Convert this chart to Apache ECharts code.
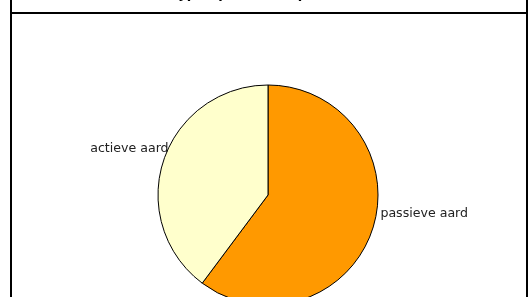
<!DOCTYPE html>
<html><head><meta charset="utf-8">
<script src="https://cdn.jsdelivr.net/npm/echarts@6/dist/echarts.min.js"></script>
<style>html,body{margin:0;padding:0;background:#fff}#c{width:531px;height:297px}</style>
</head><body><div id="c"></div>
<script>
const titleText = "Type opdrachten per aard";
const categories = ["passieve aard", "actieve aard"];
const values = [60.2, 39.8];
const colors = ["#FF9900", "#FFFFCC"];

const chart = echarts.init(document.getElementById('c'), null, {renderer: 'canvas'});
chart.setOption({
  backgroundColor: '#fff',
  animation: false,
  title: {
    text: titleText, left: 'center', top: -17,
    textStyle: {fontFamily: 'DejaVu Sans', fontSize: 13, fontWeight: 'bold', color: '#000'}
  },
  graphic: [
    {type: 'line', shape: {x1: 11, y1: 0, x2: 11, y2: 297}, style: {stroke: '#000', lineWidth: 2}},
    {type: 'line', shape: {x1: 527, y1: 0, x2: 527, y2: 297}, style: {stroke: '#000', lineWidth: 2}},
    {type: 'line', shape: {x1: 11, y1: 13, x2: 527, y2: 13}, style: {stroke: '#000', lineWidth: 2}}
  ],
  series: [{
    type: 'pie',
    center: [268, 195],
    radius: 110,
    startAngle: 90,
    clockwise: true,
    avoidLabelOverlap: false,
    data: categories.map((c, i) => ({name: c, value: values[i], itemStyle: {color: colors[i]}})),
    itemStyle: {borderColor: '#000', borderWidth: 1},
    label: {
      show: true, position: 'outside', formatter: '{b}',
      fontFamily: 'DejaVu Sans', fontSize: 12.6, color: '#222', distanceToLabelLine: 2
    },
    labelLine: {show: false, length: 0, length2: 0},
    labelLayout: function (p) {
      return p.dataIndex === 0 ? {dx: 6, dy: -16} : {dx: 7, dy: -12};
    },
    emphasis: {disabled: true}
  }]
});
</script></body></html>
